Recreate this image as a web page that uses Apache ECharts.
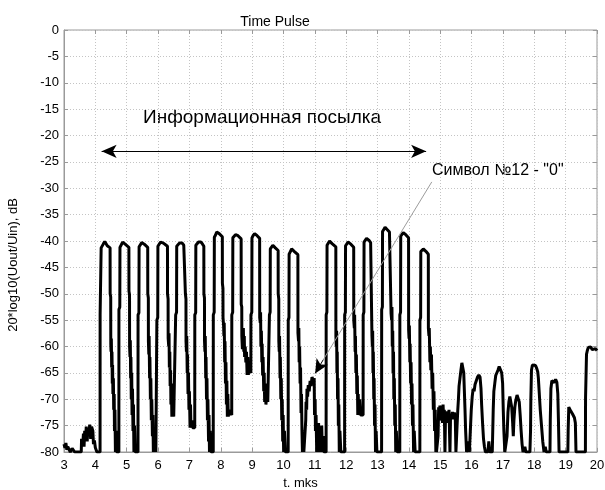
<!DOCTYPE html>
<html>
<head>
<meta charset="utf-8">
<script src="https://cdn.jsdelivr.net/npm/echarts@6/dist/echarts.min.js"></script>
<style>
  html, body { margin: 0; padding: 0; background: #fff; }
  #chart { width: 605px; height: 490px; }
</style>
</head>
<body>
<div id="chart"></div>
<script>
// t, mks / level, dB
const noiseStart = [
  [3.00,-78.5],[3.03,-79.2],[3.06,-78.3],[3.09,-79.6],[3.12,-79.0],[3.16,-79.5],[3.20,-80],[3.26,-79.3],
  [3.30,-79.6],[3.34,-80],[3.55,-80],[3.56,-77.5],[3.60,-78.6],[3.62,-76.5],[3.64,-79],[3.66,-76],
  [3.69,-77.5],[3.71,-75.2],[3.74,-78],[3.76,-75.5],[3.79,-77],[3.82,-74.8],[3.85,-77.5],[3.88,-75.2],
  [3.92,-76],[3.94,-78.5],[3.97,-77.8],[4.00,-79.2],[4.05,-80],[4.15,-80]
];

// 17 pulses, symbol 12 ("0") is the gap near 10.7..11.36
const burst = [
  [4.152,-54],[4.18,-53.8],[4.185,-41.3],[4.22,-41.0],[4.26,-40.5],[4.30,-40.1],[4.34,-40.3],[4.38,-40.9],[4.44,-41.0],[4.47,-41.3],
  [4.472,-50],[4.49,-50.6],[4.492,-59.5],[4.50,-61],[4.51,-58.5],[4.52,-64],[4.53,-61],[4.54,-67],[4.55,-63.5],[4.56,-69],
  [4.575,-66],[4.585,-72],[4.60,-69],[4.61,-76],[4.625,-72],[4.64,-80],[4.66,-76],[4.68,-80],[4.75,-80],

  [4.752,-53],[4.78,-52.5],[4.785,-41.2],[4.82,-40.8],[4.87,-40.2],[4.91,-40.0],[4.95,-40.6],[5.00,-40.9],[5.07,-41.2],
  [5.072,-49.5],[5.09,-50.2],[5.092,-60],[5.105,-62],[5.115,-58.8],[5.125,-66],[5.135,-62],[5.145,-70],[5.16,-65],[5.17,-73],
  [5.185,-68],[5.20,-76],[5.215,-71],[5.23,-80],[5.25,-75],[5.27,-80],[5.36,-80],

  [5.362,-54],[5.39,-53.6],[5.395,-41.1],[5.43,-40.8],[5.48,-40.3],[5.52,-40.1],[5.56,-40.6],[5.62,-40.9],[5.67,-41.2],
  [5.672,-50],[5.69,-50.8],[5.692,-59],[5.705,-61.5],[5.715,-58],[5.73,-66],[5.74,-62],[5.755,-70],[5.77,-66],[5.785,-74],
  [5.80,-70],[5.82,-77],[5.835,-73],[5.85,-80],[5.87,-76],[5.89,-80],[5.91,-77],[5.93,-80],[5.96,-80],

  [5.962,-55],[5.99,-54.5],[5.995,-41.0],[6.03,-40.7],[6.08,-40.2],[6.12,-40.0],[6.17,-40.4],[6.23,-40.7],[6.30,-41.0],
  [6.302,-50],[6.32,-51],[6.322,-58.4],[6.34,-60],[6.35,-57.5],[6.36,-64],[6.375,-61],[6.385,-67.5],[6.40,-64.5],[6.41,-71],
  [6.425,-67],[6.44,-73.3],[6.455,-69.5],[6.47,-73.3],[6.49,-71],[6.50,-73.3],[6.56,-73.3],

  [6.562,-54],[6.59,-53.5],[6.595,-41.0],[6.63,-40.7],[6.68,-40.4],[6.72,-40.1],[6.77,-40.4],[6.82,-40.8],[6.87,-41.1],
  [6.872,-50],[6.89,-51],[6.892,-59],[6.905,-61],[6.915,-58],[6.93,-65],[6.94,-61.5],[6.955,-69],[6.97,-65],[6.985,-72],
  [7.00,-68.5],[7.02,-75.4],[7.035,-71],[7.05,-75.4],[7.08,-74],[7.10,-75.4],[7.17,-75.4],

  [7.172,-54],[7.20,-53.6],[7.205,-40.8],[7.24,-40.5],[7.29,-40.2],[7.33,-39.9],[7.37,-40.2],[7.42,-40.6],[7.46,-41.0],
  [7.462,-50],[7.48,-50.8],[7.482,-59],[7.495,-61],[7.505,-58],[7.52,-66],[7.53,-62],[7.545,-70],[7.56,-66],[7.575,-74],
  [7.59,-70],[7.61,-78],[7.625,-73],[7.64,-80],[7.66,-76],[7.69,-80],[7.76,-80],

  [7.762,-54],[7.79,-53.5],[7.795,-39.3],[7.83,-38.9],[7.87,-38.3],[7.91,-38.2],[7.95,-38.6],[8.00,-38.9],[8.05,-39.2],
  [8.052,-48],[8.07,-49],[8.072,-54.5],[8.09,-56],[8.10,-58],[8.11,-55.5],[8.125,-63],[8.135,-59],[8.15,-67],[8.165,-63],
  [8.18,-71],[8.195,-66.5],[8.21,-73.3],[8.225,-69],[8.24,-73.3],[8.27,-72],[8.35,-73],

  [8.352,-54],[8.38,-53.5],[8.385,-39.4],[8.42,-39.1],[8.47,-38.8],[8.51,-38.8],[8.55,-39.0],[8.60,-39.3],[8.65,-39.6],
  [8.652,-52],[8.67,-52.5],[8.672,-58],[8.69,-60.5],[8.70,-57.8],[8.715,-60],[8.72,-56.5],[8.735,-61],[8.75,-58],[8.76,-62],
  [8.78,-60],[8.80,-63],[8.82,-61],[8.84,-65.4],[8.86,-62],[8.88,-65.4],[8.90,-64],[8.96,-65],

  [8.962,-54],[8.99,-53.5],[8.995,-39.4],[9.03,-39.0],[9.08,-38.6],[9.12,-38.7],[9.16,-39.0],[9.22,-39.3],[9.24,-39.5],
  [9.242,-54.5],[9.26,-55.5],[9.27,-53.5],[9.28,-60],[9.295,-57],[9.31,-63],[9.32,-59.5],[9.335,-65.5],[9.35,-62],[9.37,-68.5],
  [9.385,-65],[9.40,-70.5],[9.42,-67],[9.44,-71],[9.47,-69],[9.50,-70.5],[9.55,-70.5],

  [9.552,-54],[9.575,-53.5],[9.58,-41.5],[9.62,-41.2],[9.66,-40.8],[9.70,-40.9],[9.74,-41.3],[9.80,-41.6],[9.83,-41.8],
  [9.832,-50],[9.85,-51],[9.852,-59],[9.865,-61],[9.875,-58],[9.89,-66],[9.90,-62],[9.915,-70],[9.93,-66],[9.945,-74],
  [9.96,-70],[9.975,-78],[9.99,-73],[10.005,-80],[10.03,-76],[10.06,-80],[10.15,-80],

  [10.152,-55],[10.175,-54.5],[10.18,-42.5],[10.22,-42.0],[10.26,-41.5],[10.30,-41.6],[10.35,-42.0],[10.40,-42.3],[10.46,-42.6],
  [10.462,-57.4],[10.48,-59],[10.49,-56.5],[10.50,-63],[10.515,-60],[10.53,-67],[10.545,-64],[10.56,-72.6],[10.575,-69],
  [10.59,-76],[10.605,-80],[10.625,-77],[10.65,-80],[10.70,-80],

  [10.71,-74],[10.72,-70.5],[10.74,-72],[10.75,-68],[10.77,-69.5],[10.79,-67.3],[10.82,-68.5],[10.85,-66.5],[10.88,-67.5],
  [10.91,-65.8],[10.95,-66.5],[10.98,-66],[10.99,-73],[11.01,-70],[11.02,-76],[11.04,-73],[11.06,-80],[11.08,-75.5],
  [11.10,-79],[11.12,-74.5],[11.14,-80],[11.17,-76],[11.19,-80],[11.22,-75],[11.24,-80],[11.27,-77],[11.29,-80],[11.36,-80],

  [11.362,-54],[11.385,-53.5],[11.39,-40.8],[11.43,-40.5],[11.47,-40.0],[11.51,-40.1],[11.55,-40.5],[11.61,-40.8],[11.67,-41.1],
  [11.672,-58],[11.685,-60],[11.695,-57],[11.705,-65],[11.715,-61],[11.725,-70],[11.74,-66],[11.75,-75],[11.765,-71],
  [11.78,-80],[11.80,-76],[11.83,-80],[11.95,-80],

  [11.952,-54],[11.975,-53.5],[11.98,-40.9],[12.02,-40.6],[12.06,-40.2],[12.10,-40.3],[12.15,-40.6],[12.20,-40.9],[12.24,-41.2],
  [12.242,-55],[12.26,-56.5],[12.27,-54],[12.285,-61],[12.295,-58],[12.31,-65],[12.325,-61.5],[12.34,-69],[12.355,-65.5],
  [12.37,-73],[12.385,-69],[12.40,-73],[12.43,-70],[12.46,-73],[12.54,-73],

  [12.542,-54],[12.565,-53.5],[12.57,-40.2],[12.61,-39.9],[12.65,-39.5],[12.69,-39.6],[12.73,-39.9],[12.78,-40.3],[12.82,-40.6],
  [12.822,-58],[12.835,-60],[12.845,-57],[12.855,-65],[12.865,-61],[12.88,-70],[12.89,-66],[12.905,-75],[12.92,-71],
  [12.935,-80],[12.955,-76],[12.98,-80],[13.13,-80],

  [13.132,-53],[13.155,-52.5],[13.16,-38.2],[13.20,-37.8],[13.24,-37.4],[13.28,-37.5],[13.32,-37.9],[13.38,-38.3],[13.43,-38.6],
  [13.432,-53.7],[13.45,-55],[13.46,-52.5],[13.47,-60],[13.485,-57],[13.495,-65],[13.51,-61],[13.52,-70],[13.535,-66],
  [13.55,-75],[13.565,-71],[13.58,-80],[13.60,-76],[13.63,-80],[13.71,-80],

  [13.712,-54],[13.735,-53.5],[13.74,-39.1],[13.78,-38.8],[13.82,-38.4],[13.86,-38.5],[13.90,-38.8],[13.95,-39.1],[13.99,-39.4],
  [13.992,-56.8],[14.005,-58.5],[14.015,-56],[14.03,-63],[14.04,-59.5],[14.055,-67],[14.07,-63],[14.085,-71],[14.10,-67],
  [14.115,-75],[14.13,-71],[14.15,-80],[14.17,-76],[14.20,-80],[14.35,-80],

  [14.352,-55],[14.375,-54.5],[14.38,-42.0],[14.42,-41.7],[14.46,-41.5],[14.50,-41.7],[14.55,-42.0],[14.60,-42.3],[14.62,-42.5],
  [14.622,-56.5],[14.64,-58],[14.65,-56.5],[14.67,-63],[14.685,-60],[14.70,-64.5],[14.72,-61.5],[14.74,-68],[14.76,-65],
  [14.78,-72],[14.80,-68.5],[14.82,-76],[14.84,-72],[14.86,-80],[14.87,-76],[14.88,-80],[14.90,-80]
];

const noiseTail = [
  [14.93,-77],[14.95,-71.5],[14.97,-74],[14.99,-71.2],[15.02,-73.5],[15.05,-71.8],[15.07,-74.5],[15.09,-71],[15.11,-73.8],
  [15.13,-72],[15.15,-80],[15.17,-72.5],[15.20,-74.5],[15.22,-72.3],[15.25,-73.6],[15.28,-72],[15.31,-80],[15.33,-72.8],
  [15.36,-73.5],[15.39,-72.4],[15.42,-73.8],[15.45,-72.5],[15.48,-73.4],[15.50,-80],
  [15.53,-76],[15.56,-72],[15.58,-70],[15.60,-67.5],[15.63,-66],[15.66,-64.5],[15.69,-63.1],[15.72,-63.3],[15.75,-65],
  [15.77,-68.5],[15.79,-72],[15.81,-76],[15.84,-80],[15.88,-80],[15.91,-78],[15.93,-80],
  [15.96,-76],[15.99,-72],[16.02,-69.5],[16.05,-68],[16.08,-68.5],[16.11,-67.2],[16.15,-66.5],[16.19,-65.8],[16.23,-65.4],
  [16.27,-65.8],[16.30,-68],[16.32,-71],[16.35,-74.5],[16.38,-77.5],[16.41,-79],[16.44,-80],[16.52,-80],[16.55,-78],[16.58,-80],[16.66,-80],
  [16.69,-72],[16.71,-68.5],[16.74,-67],[16.77,-65.5],[16.80,-65.8],[16.84,-64.5],[16.88,-63.8],[16.92,-63.8],[16.96,-65],
  [16.99,-67],[17.01,-72],[17.03,-76],[17.06,-80],[17.10,-80],
  [17.13,-77],[17.16,-72.5],[17.19,-70.5],[17.22,-69.5],[17.25,-69.6],[17.28,-71.5],[17.31,-74.5],[17.33,-77],[17.35,-74],
  [17.38,-71.5],[17.41,-70.2],[17.45,-69.2],[17.49,-69.4],[17.52,-70.5],[17.55,-73],[17.58,-76],[17.61,-78.5],[17.64,-80],
  [17.70,-79],[17.73,-80],[17.86,-80],
  [17.88,-76],[17.89,-70],[17.91,-64.5],[17.94,-63.5],[17.97,-63.8],[18.00,-63.2],[18.04,-63.6],[18.08,-64.2],[18.11,-64.8],
  [18.13,-66],[18.16,-69],[18.19,-72],[18.23,-75],[18.27,-78],[18.31,-80],[18.35,-79],[18.38,-80],[18.50,-80],
  [18.51,-74],[18.53,-68],[18.56,-66.5],[18.60,-66.3],[18.64,-66.8],[18.68,-66.2],[18.72,-66.8],[18.75,-69],[18.77,-74],
  [18.79,-80],[19.07,-80],
  [19.08,-76],[19.10,-71.5],[19.13,-71.4],[19.16,-72.2],[19.19,-72.0],[19.22,-72.8],[19.25,-73.0],[19.28,-73.5],[19.31,-74.5],
  [19.33,-80],[19.63,-80],
  [19.635,-69.7],[19.66,-69.5],[19.665,-61.5],[19.69,-60.8],[19.72,-60.2],[19.76,-60.5],[19.80,-60.1],[19.85,-60.6],
  [19.90,-60.8],[19.95,-60.4],[20.0,-60.8]
];

// annotations (data coords)
const messageArrow = [[4.2, -23], [14.55, -23]];
const symbolPointer = [[14.73, -28.8], [11.27, -62.5], [11.01, -65.1]];

const fontFam = '"Liberation Sans", Arial, sans-serif';

const chart = echarts.init(document.getElementById('chart'));
chart.setOption({
  animation: false,
  backgroundColor: '#fff',
  textStyle: { fontFamily: fontFam },
  title: {
    text: 'Time Pulse',
    left: 270,
    top: 10,
    textAlign: 'center',
    textStyle: { fontSize: 14, fontWeight: 'normal', color: '#000', fontFamily: fontFam }
  },
  grid: {
    left: 64, right: 8, top: 30, bottom: 38,
    containLabel: false,
    outerBoundsMode: 'none',
    show: true,
    borderColor: '#9a9a9a',
    borderWidth: 1
  },
  xAxis: [{
    type: 'value',
    min: 3, max: 20, interval: 1,
    name: 't. mks',
    nameLocation: 'middle',
    nameGap: 23,
    nameTextStyle: { fontSize: 13, color: '#000', padding: [0, 60, 0, 0] },
    axisLine: { show: true, onZero: false, lineStyle: { color: '#9a9a9a' } },
    axisTick: { show: true, inside: true, length: 4, lineStyle: { color: '#9a9a9a' } },
    axisLabel: { fontSize: 13, color: '#000', margin: 7 },
    splitLine: { show: true, lineStyle: { color: '#c4c4c4', type: [1, 2] } }
  }, {
    type: 'value', position: 'top',
    min: 3, max: 20, interval: 1,
    axisLine: { show: false },
    axisTick: { show: true, inside: true, length: 4, lineStyle: { color: '#9a9a9a' } },
    axisLabel: { show: false },
    splitLine: { show: false }
  }],
  yAxis: [{
    type: 'value',
    min: -80, max: 0, interval: 5,
    name: '20*log10(Uout/Uin), dB',
    nameLocation: 'middle',
    nameGap: 44,
    nameTextStyle: { fontSize: 13, color: '#000', padding: [0, 48, 0, 0] },
    axisLine: { show: true, onZero: false, lineStyle: { color: '#9a9a9a' } },
    axisTick: { show: true, inside: true, length: 4, lineStyle: { color: '#9a9a9a' } },
    axisLabel: { fontSize: 13, color: '#000', margin: 5 },
    splitLine: { show: true, lineStyle: { color: '#c4c4c4', type: [1, 2] } }
  }, {
    type: 'value', position: 'right',
    min: -80, max: 0, interval: 5,
    axisLine: { show: false },
    axisTick: { show: true, inside: true, length: 4, lineStyle: { color: '#9a9a9a' } },
    axisLabel: { show: false },
    splitLine: { show: false }
  }],
  series: [{
    type: 'line',
    data: noiseStart.concat(burst, noiseTail),
    showSymbol: false,
    symbol: 'none',
    lineStyle: { color: '#000', width: 3 },
    silent: true,
    markLine: {
      silent: true,
      animation: false,
      label: { show: false },
      emphasis: { disabled: true },
      data: [
        [
          { coord: messageArrow[0], symbol: 'arrow', symbolSize: [10, 15], lineStyle: { color: '#000', width: 1, type: 'solid' } },
          { coord: messageArrow[1], symbol: 'arrow', symbolSize: [10, 15] }
        ],
        [
          { coord: symbolPointer[0], symbol: 'none', lineStyle: { color: '#9c9c9c', width: 1, type: 'solid' } },
          { coord: symbolPointer[1], symbol: 'none' }
        ],
        [
          { coord: symbolPointer[1], symbol: 'none', lineStyle: { color: '#000', width: 1, type: 'solid' } },
          { coord: symbolPointer[2], symbol: 'arrow', symbolSize: [10, 14] }
        ]
      ]
    }
  }],
  graphic: [{
    type: 'text',
    left: 143, top: 108,
    style: { text: 'Информационная посылка', fontSize: 19, fill: '#000', fontFamily: fontFam }
  }, {
    type: 'text',
    left: 432, top: 163,
    style: { text: 'Символ №12 - "0"', fontSize: 16, fill: '#000', fontFamily: fontFam }
  }]
});
</script>
</body>
</html>
